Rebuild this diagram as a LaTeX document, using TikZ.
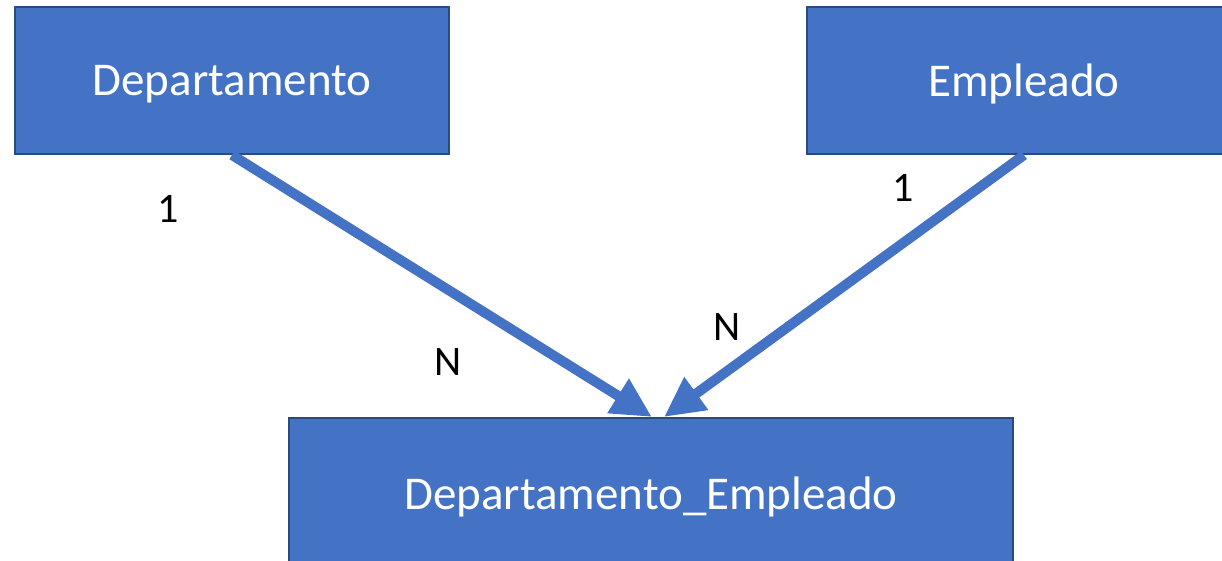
\documentclass[tikz,border=0pt]{standalone}
\usepackage{fontspec}
\setmainfont{Carlito}
\usepackage{xcolor}
\usetikzlibrary{arrows.meta,positioning}
\definecolor{boxfill}{HTML}{4472C4}
\definecolor{boxline}{HTML}{2A4A80}

\begin{document}
\begin{tikzpicture}[x=1pt,y=-1pt,
  entity/.style={draw=boxline,line width=2pt,fill=boxfill,text=white,inner sep=0pt,
    font=\fontsize{47}{56}\selectfont,text depth=0pt,minimum height=147pt},
  rel/.style={-{Triangle[length=40pt,width=38pt]},draw=boxfill,line width=10pt},
  card/.style={font=\fontsize{42}{50}\selectfont,inner sep=0pt}]
  \useasboundingbox (0,0) rectangle (1222,560);
  \node[entity,minimum width=434pt] (dep) at (232,80.5) {Departamento};
  \node[entity,minimum width=434pt] (emp) at (1024,80.5) {Empleado};
  \node[entity,minimum width=724pt,minimum height=150pt] (depemp) at (651,493) {Departamento\_Empleado};
  % relaciones
  \draw[rel] (dep.south) -- ([xshift=1pt]depemp.north);
  \draw[rel] (emp.south) -- ([xshift=13pt]depemp.north);
  \node[card] (c1) at (168,209) {1};
  \node[card] (cN) at (448,362) {N};
  \node[card] (e1) at (903,188) {1};
  \node[card] (eN) at (727,327) {N};
\end{tikzpicture}
\end{document}
